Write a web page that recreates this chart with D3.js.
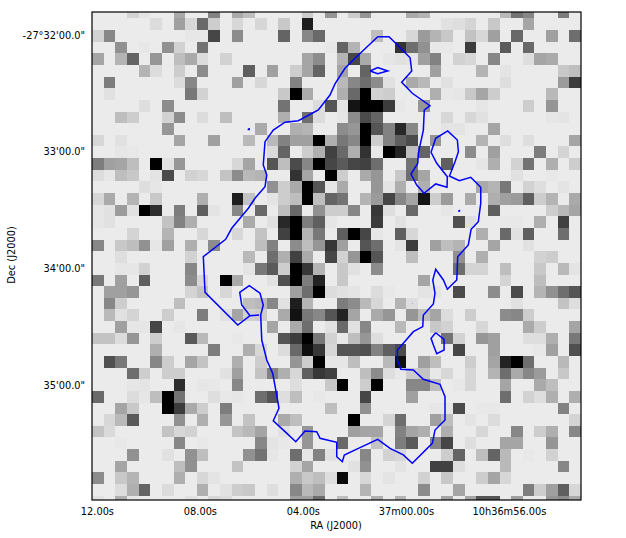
<!DOCTYPE html>
<html lang="en">
<head>
<meta charset="UTF-8">
<title>RA Dec map</title>
<script src="https://cdnjs.cloudflare.com/ajax/libs/d3/7.8.5/d3.min.js"></script>
<style>
    html, body { margin: 0; padding: 0; background: #fff; }
    svg { display: block; }
    text { font-family: "DejaVu Sans", sans-serif; font-size: 9.8px; fill: #000; }
</style>
</head>
<body>
<svg id="plot" width="626" height="538"></svg>
<script>
// flux per image row, sparse: column -> level above the sky background (0..235)
const fluxRows = [
  {3:23,4:7,7:65,10:105,12:65,13:45,18:30,20:85,22:30,23:85,27:65,28:55,35:50,36:120,37:100,40:110},
  {5:15,7:75,8:20,9:130,10:30,12:20,14:20,16:35,18:205,30:10,31:13,32:23,34:35,37:70},
  {0:25,1:100,8:4,9:4,10:165,12:95,16:135,18:100,19:130,24:45,27:20,28:80,29:55,30:35,32:40,33:20,34:75,36:130,39:75,41:125},
  {2:90,4:4,6:90,7:25,9:120,20:4,21:135,22:55,26:185,27:125,28:90,29:3,30:3,32:175,35:145,37:130},
  {0:70,2:55,3:135,5:85,7:45,8:65,9:15,11:25,18:70,19:95,21:55,22:165,23:65,25:5,26:10,27:7,28:75,29:105,31:25,32:20,34:100,37:13,38:70,39:65},
  {4:55,5:15,7:30,9:95,13:140,15:75,17:30,18:70,19:135,21:70,23:135,29:75,33:55,35:7,40:35,41:45},
  {1:110,7:15,8:100,12:75,14:20,17:105,21:50,22:100,23:125,24:95,25:10,27:65,28:50,30:10,35:13,40:80,41:175},
  {1:10,8:115,9:25,16:35,17:235,18:65,21:60,22:130,23:235,24:25,25:30,29:60,30:3,31:5,32:35,33:70,34:30,39:50},
  {4:13,6:95,16:120,19:15,20:150,21:7,22:215,23:235,24:235,25:175,26:3,28:85,33:5,37:30,39:85},
  {2:45,3:30,6:25,7:95,9:15,11:45,16:60,18:125,19:15,21:5,22:95,23:160,24:135,30:20,32:20,33:10,39:5,40:7},
  {6:85,14:65,17:60,18:55,21:95,22:85,23:235,24:150,25:105,26:195,27:100,30:7,31:7,34:70},
  {0:20,2:10,7:70,10:75,13:50,15:50,16:105,17:75,18:75,19:235,20:60,21:115,22:100,23:235,24:30,25:105,26:140,27:160,29:85,33:55,35:13,37:13,41:70},
  {2:5,3:3,15:17,16:135,18:30,19:60,20:170,21:130,22:60,23:185,24:3,25:235,26:200,27:45,28:135,32:95,34:75,38:110,40:23},
  {0:110,1:75,2:70,3:45,5:235,6:10,7:85,12:20,13:70,15:150,16:45,17:160,18:100,19:235,20:165,21:145,22:165,23:170,24:125,27:120,30:140,33:5,34:60,36:25,37:120,39:60,41:30},
  {0:15,1:5,2:45,3:35,5:7,6:160,8:25,9:20,11:40,12:95,13:50,14:55,17:185,18:70,20:235,21:30,23:65,24:85,26:35,27:125,28:70,36:10,39:3},
  {4:13,5:5,15:90,16:30,17:65,18:235,19:150,20:5,21:65,24:85,25:7,26:60,28:60,33:65,34:55,35:115,37:25,38:13,40:7},
  {0:20,1:65,3:55,5:35,9:60,12:205,13:40,15:7,16:30,17:45,18:235,19:45,20:135,21:120,23:55,24:80,25:165,26:100,27:70,28:215,29:30,30:80,32:65,34:60,35:75,36:80,37:140,38:30,39:55,41:65},
  {0:5,1:10,2:80,3:10,4:235,5:190,7:110,9:140,10:7,12:100,14:130,16:45,17:130,19:90,20:30,21:30,22:100,24:180,25:13,27:130,30:5,34:140,39:30,40:50,41:70},
  {0:5,1:10,6:40,7:105,8:60,13:65,15:10,16:195,17:235,18:110,19:140,20:5,24:175,26:10,31:155,32:13,35:3,36:3,38:60,40:170},
  {3:23,6:55,9:20,12:20,14:40,16:170,17:235,18:55,19:115,21:140,22:235,23:165,24:5,26:140,27:20,33:60,35:130,36:10,37:140,40:125},
  {0:100,2:35,3:45,4:90,5:5,6:75,8:60,10:95,14:45,15:105,17:95,18:45,19:85,20:180,21:75,23:150,24:125,26:7,27:175,29:75,30:45,31:55,34:70,37:10},
  {2:13,8:25,13:50,15:125,16:60,17:170,18:65,20:165,21:25,22:85,23:235,24:150,27:45,31:90,33:60,38:25,39:30},
  {2:5,3:5,4:25,8:100,13:7,14:115,15:145,16:30,17:235,18:180,19:55,21:35,22:10,24:95,31:125,32:23,33:23,35:45,38:35,40:50,41:7},
  {0:115,2:75,4:140,8:95,9:20,11:235,12:65,15:10,16:155,17:235,18:110,19:200,21:35,28:70,35:23,38:45},
  {1:75,2:75,3:85,8:23,9:40,11:20,17:75,18:125,19:235,20:15,21:10,22:7,24:15,25:3,28:7,29:7,31:160,34:95,36:160,38:55,39:90,40:125,41:150},
  {1:100,2:30,7:45,13:45,14:50,15:100,16:10,17:205,18:55,21:110,22:95,23:50,24:20,26:55,27:13,36:10,40:40,41:13},
  {1:50,2:10,3:23,6:30,9:110,11:10,12:70,13:25,14:30,16:65,17:217,18:115,19:100,20:150,21:200,22:70,24:65,25:85,27:85,28:45,29:70,30:15,32:30,35:95,36:100,37:30},
  {2:75,3:5,4:5,5:165,7:5,15:70,17:65,18:125,20:10,21:130,22:10,23:100,26:50,29:35,30:25,33:20,37:65,38:30,41:70},
  {0:40,1:40,2:15,3:85,5:30,8:145,9:50,12:3,16:150,17:175,18:235,19:115,20:25,21:3,22:45,23:85,24:13,30:120,31:25,33:85,34:75,37:13,38:13,39:60,41:115},
  {5:60,10:110,13:60,14:20,16:15,17:130,18:220,19:180,20:20,21:150,22:150,23:155,24:105,25:140,26:160,31:165,34:75,38:3,39:75,41:155},
  {1:155,2:115,5:100,6:30,8:70,9:40,12:60,14:30,17:85,18:30,19:235,20:5,21:5,22:45,25:50,26:220,28:75,29:45,32:30,34:70,35:200,36:235,37:125,40:50},
  {3:125,4:30,6:30,7:30,11:10,12:75,14:40,15:105,16:60,17:20,18:140,19:180,20:170,23:45,24:95,25:13,26:3,27:30,28:40,29:3,30:20,32:20,34:55,35:125,36:65,37:100,38:80,40:35},
  {3:5,4:7,7:190,9:5,10:3,12:100,17:13,20:35,21:235,23:30,24:235,27:100,28:100,29:45,31:3,32:20,35:70,38:65,39:45},
  {0:130,3:15,4:5,5:45,6:235,7:120,10:13,11:3,12:5,14:125,15:150,16:13,17:45,19:3,23:165,27:75,35:125,37:25,38:13,39:60,41:60},
  {2:70,3:35,6:235,7:175,8:65,9:30,11:110,20:45,23:90,29:5,30:5,31:160,33:3,34:3,40:105},
  {1:20,2:50,3:145,7:90,9:60,11:85,13:40,16:65,17:45,22:235,25:23,26:125,29:75,30:45,32:7,34:15,41:23},
  {0:40,1:17,6:40,7:20,8:25,12:40,13:50,14:70,16:10,18:85,22:75,23:70,24:70,26:105,27:70,28:60,30:60,33:20,36:100,38:30,39:60,41:100},
  {2:3,7:100,9:3,14:100,15:7,16:3,18:85,21:130,24:40,26:110,27:145,29:100,30:165,32:13,35:70,36:70,39:85},
  {3:90,6:10,8:90,9:45,13:90,14:120,15:5,17:125,18:5,19:105,20:10,23:100,25:25,26:20,30:30,31:135,33:45,34:135,35:50,37:3,39:25},
  {2:70,7:45,8:90,12:40,17:25,18:70,22:10,23:90,26:7,29:170,30:170,31:13,35:50,40:100},
  {0:95,2:35,3:55,7:60,9:20,10:7,17:60,18:35,19:45,20:13,21:225,23:20,25:7,28:25,30:35,33:30,34:70,35:20},
  {2:15,3:60,4:135,6:15,9:60,11:10,12:30,13:35,15:13,17:100,18:50,19:65,23:55,28:95,31:70,37:110,38:30,39:75,40:140,41:20},
  {0:10,2:60,3:5,8:10,10:20,11:15,17:75,18:75,19:125,21:45,24:60,26:55,30:70,32:70,33:150,34:150,36:75,39:85,40:95,41:65}
];
const numCols = 42;

// contours in image pixel units (column, row)
const mainContour = [[24.54,2.12],[25.51,2.12],[26.17,2.77],[27.32,3.93],[27.46,5.07],[26.6,6.04],[27.51,6.98],[29.03,8.05],[28.54,8.42],[28.46,10.14],[28.03,12.14],[27.98,13],[27.4,13.92],[27.89,14.86],[28.52,15.57],[29.52,14.77],[30.49,15.06],[30.52,14.15],[29.61,13],[29.12,12.05],[29.52,10.85],[30.55,10.22],[31.38,11],[31.47,12],[31.18,12.86],[30.7,14.09],[31.55,14.49],[32.53,14.2],[33.39,15.06],[33.39,16.43],[33.18,18.01],[32.56,18.67],[32.32,20.01],[31.41,21.02],[31.33,23.02],[30.52,23.82],[30.18,23.02],[29.52,22.1],[29.27,23.02],[29.46,24.16],[29.32,25.08],[28.46,26.03],[28.41,27.03],[27.6,27.46],[26.74,28.46],[26.23,29.03],[26.23,29.89],[26.52,30.69],[27.6,30.75],[28.46,31.55],[29.89,31.98],[30.32,33.05],[30.32,35.05],[29.46,35.91],[29.23,37.05],[27.51,38.77],[26.74,38.05],[25.6,37.48],[24.54,36.71],[22.88,37.48],[21.67,38.05],[21.5,38.63],[21.02,38.2],[21.02,36.96],[19.59,36.62],[19.3,36.05],[18.3,35.99],[17.5,36.91],[16.58,36.05],[15.57,35.11],[16.06,34.04],[15.81,32.62],[15.52,31.04],[15.01,29.89],[14.58,28.18],[14.49,26.03],[14.71,25.17],[14.43,24.16],[13.51,23.51],[12.69,24.08],[12.86,25.17],[13.57,26.09],[14.35,26.03],[13.57,26.09],[12.52,26.89],[9.71,24.08],[9.56,21.02],[11.48,19.53],[12,18.58],[13.43,16.86],[14,16],[14.86,15.01],[15.01,14],[14.71,13.14],[14.86,11.14],[15.57,10.14],[16.58,9.47],[17.72,9.34],[19.44,8.42],[20.44,7.13],[20.87,6.18],[21.73,4.84],[22.59,3.98],[24.54,2.12]];
const topLoop = [[23.88,5.07],[24.54,4.78],[25.4,5.07],[24.54,5.3],[23.88,5.07]];
const lowerLoop = [[29.52,27.55],[30.24,28.12],[30.24,29.03],[29.61,29.35],[29.32,28.6],[29.12,28.03],[29.52,27.55]];
const specks = [
  [[13.43,10.03],[13.5,10.03],[13.5,10.09],[13.43,10.09],[13.43,10.03]],
  [[31.5,17.05],[31.56,17.05],[31.56,17.1],[31.5,17.1],[31.5,17.05]],
  [[12.5,23.03],[12.54,23.05]],
  [[27.49,25.01],[27.53,25.03]]
];

// axis ticks: seconds of RA from 10h37m, arcmin of Dec below -27 deg
const raTicks = [12, 8, 4, 0, -4];
const raLabels = ["12.00s", "08.00s", "04.00s", "37m00.00s", "10h36m56.00s"];
const decTicks = [32, 33, 34, 35];
const decLabels = ["-27°32'00.0\"", "33'00.0\"", "34'00.0\"", "35'00.0\""];

const plotLeft = 92, plotRight = 581, plotTop = 12, plotBottom = 500;

const svg = d3.select("#plot");

const xGrid = d3.scaleLinear().domain([0, numCols]).range([plotLeft, plotRight]);
const yGrid = d3.scaleLinear().domain([0, 41.92]).range([plotTop, plotBottom]);
const xRa = d3.scaleLinear().domain([12.19, -6.8]).range([plotLeft, plotRight]);
const yDec = d3.scaleLinear().domain([31.811, 35.993]).range([plotTop, plotBottom]);
const grey = d3.scaleLinear().domain([0, 235]).range(["#ebebeb", "#000000"]);

svg.append("defs").append("clipPath").attr("id", "frame")
    .append("rect")
    .attr("x", plotLeft).attr("y", plotTop)
    .attr("width", plotRight - plotLeft).attr("height", plotBottom - plotTop);

const image = svg.append("g").attr("clip-path", "url(#frame)");

image.append("rect")
    .attr("x", plotLeft).attr("y", plotTop)
    .attr("width", plotRight - plotLeft).attr("height", plotBottom - plotTop)
    .attr("fill", grey(0));

const rowOffset = 0.45;
fluxRows.forEach((row, r) => {
    Object.keys(row).forEach(key => {
        const c = +key;
        image.append("rect")
            .attr("x", xGrid(c))
            .attr("y", yGrid(r - rowOffset))
            .attr("width", xGrid(c + 1) - xGrid(c))
            .attr("height", yGrid(r + 1 - rowOffset) - yGrid(r - rowOffset))
            .attr("fill", grey(row[key]))
            .attr("shape-rendering", "crispEdges");
    });
});

const line = d3.line().x(d => xGrid(d[0])).y(d => yGrid(d[1]));

[mainContour, topLoop, lowerLoop].forEach(points => {
    image.append("path")
        .attr("d", line(points))
        .attr("fill", "none")
        .attr("stroke", "#0000ff")
        .attr("stroke-width", 1.5);
});

specks.forEach((points, i) => {
    image.append("path")
        .attr("d", line(points))
        .attr("fill", "none")
        .attr("stroke", "#0000ff")
        .attr("stroke-width", i < 2 ? 1.5 : 0.6);
});

// frame
svg.append("rect")
    .attr("x", plotLeft).attr("y", plotTop)
    .attr("width", plotRight - plotLeft).attr("height", plotBottom - plotTop)
    .attr("fill", "none")
    .attr("stroke", "#000")
    .attr("stroke-width", 1.2);

// axes, ticks are hidden in the original, only labels show
const xAxis = d3.axisBottom(xRa).tickValues(raTicks)
    .tickFormat((d, i) => raLabels[i]).tickSize(0).tickPadding(8);
svg.append("g").attr("transform", "translate(0," + plotBottom + ")").call(xAxis)
    .call(g => g.select(".domain").remove());

const yAxis = d3.axisLeft(yDec).tickValues(decTicks)
    .tickFormat((d, i) => decLabels[i]).tickSize(0).tickPadding(7);
svg.append("g").attr("transform", "translate(" + plotLeft + ",1)").call(yAxis)
    .call(g => g.select(".domain").remove());

svg.selectAll(".tick text").style("font-size", "9.8px")
    .style("font-family", '"DejaVu Sans", sans-serif');

svg.append("text")
    .attr("x", 336).attr("y", 529)
    .attr("text-anchor", "middle")
    .text("RA (J2000)");

svg.append("text")
    .attr("text-anchor", "middle")
    .attr("transform", "translate(15,255) rotate(-90)")
    .text("Dec (J2000)");
</script>
</body>
</html>
